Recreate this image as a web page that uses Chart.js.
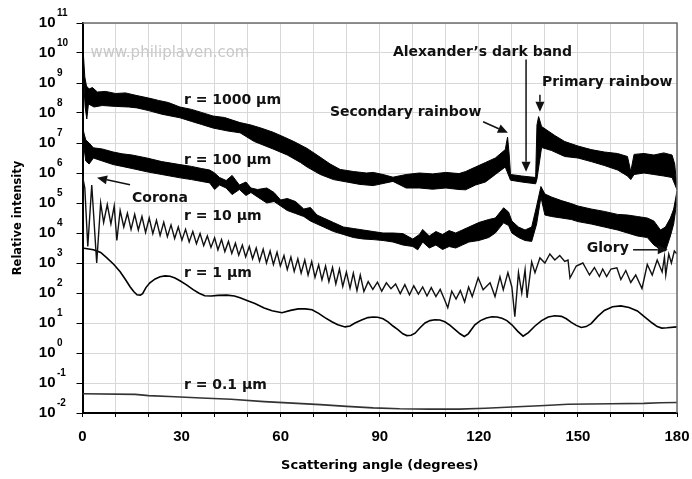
<!DOCTYPE html>
<html>
<head>
<meta charset="utf-8">
<script src="https://cdn.jsdelivr.net/npm/chart.js@4.4.1/dist/chart.umd.min.js"></script>
<style>
  html, body { margin: 0; padding: 0; background: #fff; }
  #wrap { width: 692px; height: 479px; }
</style>
</head>
<body>
<div id="wrap"><canvas id="mie"></canvas></div>
<script>
// axis ticks
const yExponents = [-2, -1, 0, 1, 2, 3, 4, 5, 6, 7, 8, 9, 10, 11];
const xGrid = [0, 10, 20, 30, 40, 50, 60, 70, 80, 90, 100, 110, 120, 130, 140, 150, 160, 170, 180];
const xLabels = [0, 30, 60, 90, 120, 150, 180];

// values: [scattering angle (deg), log10 of relative intensity]
// the two big drops are very noisy, so they are kept as an upper and a lower edge
const r1000Upper = [
  [0, 10.1], [0.3, 9.9], [0.7, 9.2], [1.2, 8.9], [2.0, 8.8], [3.0, 8.85], [4.5, 8.7], [7, 8.72],
  [10, 8.65], [13, 8.67], [16.5, 8.58], [20, 8.5], [23, 8.42], [26, 8.35], [29.5, 8.2], [33, 8.12],
  [36, 8.02], [39.5, 7.9], [43, 7.85], [47.7, 7.68], [51, 7.6], [54, 7.5], [57.7, 7.36], [61, 7.2],
  [64, 7.05], [68, 6.82], [71, 6.6], [75, 6.3], [78, 6.12], [82, 6.05], [86, 6.0], [88, 6.02],
  [91, 5.95], [94, 5.86], [98, 5.95], [102, 6.0], [106, 5.97], [110, 6.02], [114, 5.98], [116, 6.05],
  [119, 6.2], [122, 6.35], [125, 6.5], [128, 6.78], [128.7, 7.2], [129.2, 6.6], [129.6, 5.95],
  [133, 5.9], [137.2, 5.85], [137.6, 7.6], [138.1, 7.88], [139, 7.55], [141, 7.4], [143, 7.25],
  [146, 7.05], [150, 6.9], [154, 6.78], [158, 6.7], [162, 6.65], [165, 6.55], [166, 6.05],
  [167, 6.62], [170, 6.65], [173, 6.6], [176, 6.67], [178.5, 6.6], [179.3, 6.3], [180, 5.5]
];
const r1000Lower = [
  [0, 9.9], [0.4, 9.0], [0.8, 8.2], [1.3, 7.8], [1.8, 8.3], [3.5, 8.2], [6, 8.25], [10, 8.22],
  [14, 8.2], [16.5, 8.17], [20, 8.08], [24, 7.96], [29.5, 7.84], [33, 7.72], [36, 7.62], [39.5, 7.5],
  [44, 7.4], [47.7, 7.34], [52, 7.05], [57.7, 6.8], [62, 6.6], [66, 6.35], [68, 6.2], [72, 5.95],
  [76, 5.78], [80, 5.7], [84, 5.62], [88, 5.58], [91, 5.65], [94, 5.72], [98, 5.5], [102, 5.5],
  [106, 5.46], [110, 5.5], [114, 5.45], [116, 5.44], [119, 5.6], [122, 5.7], [125, 5.95], [128, 6.2],
  [129.6, 5.76], [133, 5.7], [137.2, 5.64], [137.6, 5.8], [139, 6.85], [142, 6.75], [146, 6.55],
  [150, 6.5], [154, 6.38], [158, 6.25], [162, 6.1], [165, 5.9], [166, 5.78], [167, 5.95], [170, 6.0],
  [173, 5.95], [176, 5.9], [178.5, 5.85], [180, 5.44]
];
const r100Upper = [
  [0, 7.55], [0.5, 7.3], [1.0, 7.1], [2.0, 7.0], [3.3, 6.84], [6, 6.8], [9.3, 6.7], [12, 6.64],
  [15, 6.6], [19.5, 6.5], [24, 6.38], [29.5, 6.28], [33, 6.22], [36, 6.15], [38.5, 6.1], [40, 6.0],
  [41.5, 5.85], [43.5, 5.75], [45.3, 5.92], [47.5, 5.6], [49.5, 5.7], [51, 5.5], [53, 5.45],
  [55.8, 5.5], [58, 5.35], [60, 5.1], [62, 5.15], [64.5, 5.05], [67, 4.8], [69, 4.85], [71, 4.6],
  [73, 4.5], [76, 4.35], [79, 4.2], [82, 4.15], [85, 4.1], [88, 4.05], [91, 4.0], [94, 4.0],
  [97, 3.98], [100, 3.8], [102, 3.95], [103, 4.12], [105, 3.9], [107, 4.05], [109, 3.95], [111, 4.08],
  [113, 4.0], [115, 4.1], [117, 4.2], [120, 4.35], [123, 4.45], [125, 4.5], [127.5, 4.84], [129, 4.7],
  [130, 4.4], [132, 4.2], [134, 4.1], [136, 4.2], [137.5, 4.9], [138.8, 5.55], [140, 5.3], [142, 5.2],
  [145, 5.08], [148, 4.98], [150, 4.9], [154, 4.8], [158, 4.72], [162, 4.62], [165, 4.6], [168, 4.55],
  [171, 4.5], [173, 4.4], [175, 4.1], [176.5, 4.2], [178, 4.5], [179, 4.8], [180, 5.4]
];
const r100Lower = [
  [0, 7.4], [0.5, 6.8], [1.0, 6.4], [2.0, 6.3], [3.3, 6.5], [6, 6.4], [9.3, 6.28], [12, 6.22],
  [15, 6.15], [19.5, 6.04], [24, 5.95], [29.5, 5.84], [33, 5.78], [36, 5.72], [38.5, 5.67], [40, 5.45],
  [41.5, 5.6], [43.5, 5.5], [45.3, 5.28], [47.5, 5.45], [49.5, 5.25], [51, 5.35], [53, 5.2],
  [55.8, 5.0], [58, 5.05], [60, 4.9], [62, 4.75], [64.5, 4.65], [67, 4.55], [69, 4.4], [71, 4.3],
  [73, 4.2], [76, 4.05], [79, 3.95], [82, 3.85], [85, 3.8], [88, 3.78], [91, 3.75], [94, 3.7],
  [97, 3.6], [100, 3.55], [101.5, 3.44], [103, 3.7], [105, 3.5], [107, 3.6], [109, 3.45], [111, 3.55],
  [113, 3.5], [115, 3.6], [117, 3.7], [120, 3.75], [123, 3.85], [125, 4.0], [127.5, 4.34], [129, 4.25],
  [130, 4.0], [132, 3.85], [134, 3.75], [136, 3.72], [137.5, 4.3], [138.8, 5.2], [140, 4.6], [142, 4.55],
  [145, 4.5], [148, 4.45], [150, 4.38], [154, 4.3], [158, 4.2], [162, 4.1], [165, 4.0], [168, 3.9],
  [171, 3.85], [173, 3.6], [175, 3.45], [176.5, 3.4], [178, 3.9], [179, 4.3], [180, 5.1]
];
const r10 = [
  [0, 5.9], [0.7, 5.5], [1.6, 3.55], [2.8, 5.6], [4.3, 3.0], [5.5, 5.0], [6.4, 4.35], [7.5, 4.95],
  [8.6, 4.3], [9.6, 4.9], [10.4, 3.75], [11.4, 4.75], [12.5, 4.2], [13.6, 4.66], [14.7, 4.12],
  [15.8, 4.62], [16.9, 4.1], [18.0, 4.55], [19.1, 4.02], [20.2, 4.5], [21.3, 3.98], [22.4, 4.42],
  [23.5, 3.92], [24.6, 4.36], [25.7, 3.88], [26.8, 4.27], [27.9, 3.82], [29.0, 4.2], [30.1, 3.76],
  [31.2, 4.12], [32.3, 3.7], [33.4, 4.05], [34.5, 3.64], [35.6, 3.98], [36.7, 3.58], [37.8, 3.9],
  [38.9, 3.52], [40.0, 3.84], [41.0, 3.44], [42.1, 3.78], [43.1, 3.38], [44.2, 3.72], [45.2, 3.32],
  [46.3, 3.66], [47.3, 3.26], [48.4, 3.6], [49.4, 3.2], [50.5, 3.55], [51.5, 3.14], [52.6, 3.5],
  [53.6, 3.06], [54.7, 3.46], [55.7, 3.0], [56.8, 3.4], [57.8, 2.95], [58.9, 3.36], [59.9, 2.9],
  [61.0, 3.25], [62.0, 2.78], [63.1, 3.2], [64.1, 2.72], [65.2, 3.14], [66.2, 2.66], [67.3, 3.1],
  [68.3, 2.6], [69.4, 3.05], [70.4, 2.52], [71.5, 2.94], [72.5, 2.44], [73.6, 2.9], [74.6, 2.38],
  [75.7, 2.85], [76.7, 2.3], [77.8, 2.8], [78.8, 2.22], [79.9, 2.7], [81.0, 2.16], [82.0, 2.66],
  [83.1, 2.08], [84.1, 2.6], [85.2, 2.05], [86.5, 2.38], [87.9, 2.12], [89.3, 2.36], [90.6, 2.06],
  [92.0, 2.34], [93.4, 2.14], [94.8, 2.3], [96.2, 1.98], [97.6, 2.28], [99.0, 1.94], [100.3, 2.24],
  [101.7, 1.96], [103.0, 2.2], [104.3, 1.9], [105.6, 2.18], [107.0, 1.88], [108.3, 2.12], [109.6, 1.78],
  [110.6, 1.51], [111.8, 2.06], [113.1, 1.8], [114.4, 2.08], [115.7, 1.7], [116.9, 2.2], [118.0, 1.88],
  [119.8, 2.51], [121.3, 2.11], [123.4, 2.34], [124.9, 1.88], [126.4, 2.54], [127.4, 2.11], [128.8, 2.68],
  [130.0, 2.2], [130.9, 1.21], [132.0, 2.68], [133.0, 2.0], [134.0, 2.78], [134.6, 1.84], [136.0, 3.04],
  [137.0, 2.68], [138.5, 3.17], [140.0, 3.0], [141.5, 3.3], [143.0, 3.1], [144.5, 3.25], [146.0, 3.05],
  [147.0, 3.1], [147.6, 2.5], [149.5, 2.9], [151.5, 3.0], [153.5, 2.6], [155.0, 2.85], [156.5, 2.55],
  [157.5, 2.8], [158.7, 2.55], [160.0, 2.8], [161.8, 2.84], [163.0, 2.45], [164.5, 2.75], [166.0, 2.35],
  [167.5, 2.6], [169.4, 2.15], [171.0, 2.95], [172.5, 2.6], [174.0, 3.1], [175.5, 2.7], [176.2, 3.2],
  [176.6, 2.6], [177.5, 3.3], [178.3, 3.0], [179.2, 3.4], [180.0, 3.3]
];
const r1 = [
  [0, 3.5], [3.3, 3.44], [5.5, 3.35], [7.3, 3.18], [9.5, 2.95], [11.4, 2.71], [13, 2.45], [14.4, 2.21],
  [15.5, 2.05], [16.5, 1.94], [17.5, 1.93], [18.2, 1.98], [19.2, 2.18], [20.4, 2.34], [22, 2.47],
  [23.5, 2.54], [25, 2.57], [26.5, 2.56], [28, 2.5], [29.5, 2.41], [31.5, 2.27], [33.5, 2.11],
  [35.3, 1.99], [37, 1.91], [39, 1.9], [41, 1.92], [43.7, 1.93], [46, 1.9], [47.7, 1.84], [50, 1.74],
  [52.2, 1.65], [55, 1.5], [57.4, 1.41], [60.4, 1.34], [63, 1.42], [65.3, 1.47], [67.5, 1.47],
  [69.5, 1.44], [71.5, 1.32], [73.4, 1.18], [75.5, 1.04], [77.3, 0.94], [79.5, 0.87], [81, 0.9],
  [82.5, 1.0], [84.5, 1.1], [86.4, 1.18], [88, 1.2], [89.4, 1.19], [91, 1.14], [92.5, 1.04], [94, 0.9],
  [95.5, 0.78], [97, 0.64], [98.2, 0.58], [99.5, 0.59], [100.7, 0.66], [102.2, 0.84], [103.7, 1.0],
  [105.2, 1.08], [106.7, 1.11], [108.2, 1.1], [109.7, 1.04], [111.3, 0.92], [112.8, 0.78], [114.3, 0.64],
  [115.6, 0.55], [116.8, 0.64], [118.8, 0.94], [120.5, 1.08], [122.3, 1.17], [124, 1.21], [125.5, 1.2],
  [127, 1.16], [128.5, 1.08], [130, 0.94], [131.8, 0.72], [133.4, 0.56], [135, 0.68], [137, 0.9],
  [139, 1.08], [141, 1.2], [143, 1.24], [145, 1.22], [146.5, 1.14], [148, 1.02], [149.5, 0.92],
  [151, 0.85], [152.5, 0.88], [154, 0.98], [156, 1.22], [158, 1.42], [160.5, 1.54], [163, 1.57],
  [165.5, 1.52], [168, 1.4], [170, 1.22], [172.5, 1.0], [174, 0.88], [175.4, 0.83], [177, 0.84], [180, 0.87]
];
const r01 = [
  [0, -1.36], [16, -1.38], [20, -1.42], [28, -1.46], [36, -1.5], [45, -1.54], [55, -1.62], [65, -1.68],
  [72, -1.72], [80, -1.78], [88, -1.83], [96, -1.86], [105, -1.87], [114, -1.87], [122, -1.84],
  [130, -1.8], [140, -1.75], [147, -1.71], [160, -1.69], [170, -1.68], [175, -1.66], [180, -1.65]
];

// labels and arrows, placed in data units (deg, log10 intensity)
const notes = [
  { text: "r = 1000 µm", deg: 30.7, exp: 8.31 },
  { text: "r = 100 µm", deg: 30.7, exp: 6.31 },
  { text: "r = 10 µm", deg: 30.7, exp: 4.44 },
  { text: "r = 1 µm", deg: 30.7, exp: 2.53 },
  { text: "r = 0.1 µm", deg: 30.7, exp: -1.19 },
  { text: "Corona", deg: 15.0, exp: 5.04 },
  { text: "Secondary rainbow", deg: 74.9, exp: 7.91 },
  { text: "Alexander’s dark band", deg: 94.0, exp: 9.91 },
  { text: "Primary rainbow", deg: 139.1, exp: 8.91 },
  { text: "Glory", deg: 152.7, exp: 3.38 },
];
const arrows = [
  { from: [14.4, 5.61], to: [4.4, 5.84] },
  { from: [121.3, 7.71], to: [128.8, 7.34] },
  { from: [134.3, 9.78], to: [134.3, 6.04] },
  { from: [138.5, 8.61], to: [138.5, 8.04] },
  { from: [166.7, 3.44], to: [177.2, 3.44] },
];

const toXY = (pts) => pts.map(([deg, e]) => ({ x: deg, y: Math.pow(10, e) }));

function lineSet(label, pts, color, width, fill) {
  return {
    label: label,
    data: toXY(pts),
    borderColor: color,
    backgroundColor: color,
    borderWidth: width,
    pointRadius: 0,
    tension: 0,
    fill: fill || false,
  };
}

const axisFont = { family: "'Liberation Sans', Arial, sans-serif", weight: "bold", size: 15 };

// watermark, annotations, tick exponents and the grey frame
const decorations = {
  id: "decorations",
  beforeDatasetsDraw(chart) {
    const { ctx, scales } = chart;
    ctx.save();
    ctx.font = "15px 'DejaVu Sans', Verdana, sans-serif";
    ctx.fillStyle = "#c9c9c9";
    ctx.textBaseline = "alphabetic";
    ctx.fillText("www.philiplaven.com", scales.x.getPixelForValue(2.4), scales.y.getPixelForValue(Math.pow(10, 9.88)));
    ctx.restore();
  },
  afterDatasetsDraw(chart) {
    const { ctx, scales } = chart;
    const px = (deg) => scales.x.getPixelForValue(deg);
    const py = (e) => scales.y.getPixelForValue(Math.pow(10, e));
    ctx.save();
    ctx.fillStyle = "#111";
    ctx.strokeStyle = "#111";
    ctx.font = "bold 14px 'DejaVu Sans', Verdana, sans-serif";
    ctx.textAlign = "left";
    ctx.textBaseline = "alphabetic";
    notes.forEach((n) => ctx.fillText(n.text, px(n.deg), py(n.exp)));

    ctx.lineWidth = 1.5;
    arrows.forEach((a) => {
      const x1 = px(a.from[0]), y1 = py(a.from[1]);
      const x2 = px(a.to[0]), y2 = py(a.to[1]);
      const ang = Math.atan2(y2 - y1, x2 - x1);
      const len = 10, half = 4.5;
      const bx = x2 - len * Math.cos(ang), by = y2 - len * Math.sin(ang);
      ctx.beginPath();
      ctx.moveTo(x1, y1);
      ctx.lineTo(bx, by);
      ctx.stroke();
      ctx.beginPath();
      ctx.moveTo(x2, y2);
      ctx.lineTo(bx + half * Math.sin(ang), by - half * Math.cos(ang));
      ctx.lineTo(bx - half * Math.sin(ang), by + half * Math.cos(ang));
      ctx.closePath();
      ctx.fill();
    });
    ctx.restore();
  },
  afterDraw(chart) {
    const { ctx, chartArea, scales } = chart;
    ctx.save();
    // grey frame on top and right
    ctx.strokeStyle = "#6e6e6e";
    ctx.lineWidth = 1.5;
    ctx.beginPath();
    ctx.moveTo(chartArea.left, chartArea.top);
    ctx.lineTo(chartArea.right, chartArea.top);
    ctx.lineTo(chartArea.right, chartArea.bottom);
    ctx.stroke();
    // exponents of the 10^n tick labels
    ctx.fillStyle = "#000";
    ctx.font = "bold 10px 'Liberation Sans', Arial, sans-serif";
    ctx.textAlign = "left";
    ctx.textBaseline = "middle";
    yExponents.forEach((e) => {
      const y = scales.y.getPixelForValue(Math.pow(10, e));
      ctx.fillText(String(e), 57, y - 10);
    });
    ctx.restore();
  },
};

new Chart(document.getElementById("mie"), {
  type: "line",
  data: {
    datasets: [
      lineSet("r = 1000 µm (upper)", r1000Upper, "#000", 1),
      lineSet("r = 1000 µm (lower)", r1000Lower, "#000", 1, "-1"),
      lineSet("r = 100 µm (upper)", r100Upper, "#000", 1),
      lineSet("r = 100 µm (lower)", r100Lower, "#000", 1, "-1"),
      lineSet("r = 10 µm", r10, "#111", 1.4),
      lineSet("r = 1 µm", r1, "#000", 1.6),
      lineSet("r = 0.1 µm", r01, "#333", 1.6),
    ],
  },
  options: {
    responsive: true,
    maintainAspectRatio: false,
    animation: false,
    devicePixelRatio: 1,
    layout: { padding: { left: 0, right: 15, top: 23, bottom: 0 } },
    plugins: {
      legend: { display: false },
      tooltip: { enabled: false },
    },
    scales: {
      x: {
        type: "linear",
        min: 0,
        max: 180,
        afterBuildTicks: (s) => { s.ticks = xGrid.map((v) => ({ value: v })); },
        afterFit: (s) => { s.height = 66; s.paddingLeft = 0; s.paddingRight = 0; },
        ticks: {
          autoSkip: false,
          maxRotation: 0,
          padding: 11,
          color: "#000",
          font: axisFont,
          callback: (v) => (xLabels.includes(v) ? String(v) : ""),
        },
        grid: { color: "#d8d8d8", lineWidth: 1, tickLength: 4, tickColor: "#000", tickWidth: 1 },
        border: { display: true, color: "#000", width: 2 },
        title: {
          display: true,
          text: "Scattering angle (degrees)",
          color: "#000",
          font: { family: "'DejaVu Sans', Verdana, sans-serif", weight: "bold", size: 13 },
          padding: { top: 0, bottom: 5.5 },
        },
      },
      y: {
        type: "logarithmic",
        min: 1e-2,
        max: 1e11,
        afterBuildTicks: (s) => { s.ticks = yExponents.map((e) => ({ value: Math.pow(10, e) })); },
        afterFit: (s) => { s.width = 82.5; s.paddingTop = 0; s.paddingBottom = 0; },
        ticks: {
          autoSkip: false,
          padding: 21,
          color: "#000",
          font: axisFont,
          callback: () => "10",
        },
        grid: { color: "#d8d8d8", lineWidth: 1, tickLength: 6, tickColor: "#000", tickWidth: 1 },
        border: { display: true, color: "#000", width: 2 },
        title: {
          display: true,
          text: "Relative intensity",
          color: "#000",
          font: { family: "'DejaVu Sans', Verdana, sans-serif", weight: "bold", size: 11.5 },
          padding: { top: 11, bottom: 0 },
        },
      },
    },
  },
  plugins: [decorations],
});
</script>
</body>
</html>
